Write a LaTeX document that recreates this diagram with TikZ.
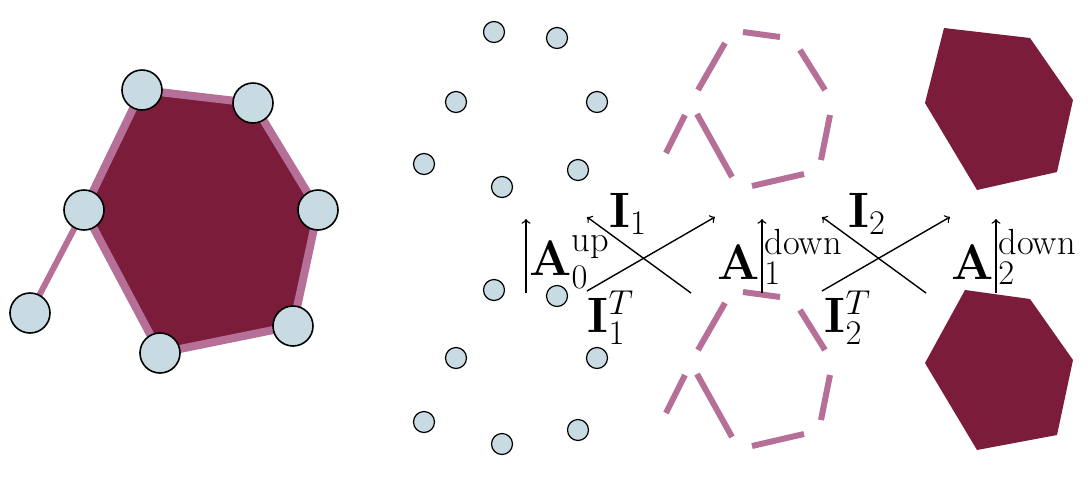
\documentclass[tikz,border=0pt]{standalone}
\usepackage{amsmath}
\begin{document}
\begin{tikzpicture}[x=0.5pt,y=-0.5pt]
\definecolor{maroon}{RGB}{122,28,58}
\definecolor{pinkedge}{RGB}{182,112,152}
\definecolor{nodeblue}{RGB}{200,218,226}
\tikzset{
 big/.style={circle,draw=black,line width=0.8pt,fill=nodeblue,minimum size=20pt,inner sep=0pt},
 small/.style={circle,draw=black,line width=0.6pt,fill=nodeblue,minimum size=10.5pt,inner sep=0pt},
 seg/.style={draw=pinkedge,line width=3pt},
 arr/.style={->,line width=0.7pt},
 lab/.style={font=\fontsize{26}{30}\selectfont,inner sep=0pt}
}
\useasboundingbox (0,0) rectangle (1088,483);
% left graph
\coordinate (h1) at (142,90); \coordinate (h2) at (253,103); \coordinate (h3) at (318,210);
\coordinate (h4) at (293,326); \coordinate (h5) at (160,353); \coordinate (h6) at (84,210);
\filldraw[fill=maroon,draw=pinkedge,line width=4pt,line join=round] (h1)--(h2)--(h3)--(h4)--(h5)--(h6)--cycle;
\draw[pinkedge,line width=3pt] (h6)--(30,313);
\foreach \n/\p in {n1/h1,n2/h2,n3/h3,n4/h4,n5/h5,n6/h6} \node[big] (\n) at (\p) {};
\node[big] (n7) at (30,313) {};
% small dots
\foreach \i/\x/\y in {1/494/32,2/557/38,3/456/102,4/597/102,5/424/164,6/502/187,7/578/170,
 8/494/290,9/557/296,10/456/358,11/597/358,12/424/422,13/502/444,14/578/430}
 \node[small] (d\i) at (\x,\y) {};
% dashed hexagons
\foreach \dy in {0,260}{
 \begin{scope}[yshift=-\dy*0.5pt]
 \draw[seg] (743,32)--(780,37);
 \draw[seg] (725,43)--(698,90);
 \draw[seg] (800,50)--(825,90);
 \draw[seg] (685,115)--(666,153);
 \draw[seg] (697,114)--(732,177);
 \draw[seg] (830,115)--(821,160);
 \draw[seg] (752,186)--(804,174);
 \end{scope}}
% right filled hexagons
\fill[maroon] (944,28)--(1030,38)--(1073,100)--(1057,172)--(977,190)--(925,103)--cycle;
\fill[maroon] (965,290)--(1030,299)--(1073,360)--(1057,435)--(977,450)--(925,363)--cycle;
% arrows
\coordinate (a0s) at (526,293); \coordinate (a0e) at (526,219);
\draw[arr] (a0s)--(a0e);
\node[lab,anchor=west] (A0) at (529,262) {$\mathbf{A}_0^{\text{up}}$};
\coordinate (c1a) at (587,291); \coordinate (c1b) at (715,217);
\coordinate (c1c) at (691,293); \coordinate (c1d) at (587,217);
\draw[arr] (c1a)--(c1b); \draw[arr] (c1c)--(c1d);
\node[lab] (I1) at (628,214) {$\mathbf{I}_1$};
\node[lab] (I1T) at (611,318) {$\mathbf{I}_1^T$};
\draw[arr] (762,293)--(762,219);
\node[lab,anchor=east] (A1) at (760,262) {$\mathbf{A}$};
\node[lab,anchor=west] (A1s) at (764,257) {$\vphantom{\mathbf{A}}_1^{\text{down}}$};
\coordinate (c2a) at (822,291); \coordinate (c2b) at (950,217);
\coordinate (c2c) at (926,293); \coordinate (c2d) at (822,217);
\draw[arr] (c2a)--(c2b); \draw[arr] (c2c)--(c2d);
\node[lab] (I2) at (867,214) {$\mathbf{I}_2$};
\node[lab] (I2T) at (848,318) {$\mathbf{I}_2^T$};
\draw[arr] (996,293)--(996,219);
\node[lab,anchor=east] (A2) at (994,262) {$\mathbf{A}$};
\node[lab,anchor=west] (A2s) at (998,257) {$\vphantom{\mathbf{A}}_2^{\text{down}}$};
\end{tikzpicture}
\end{document}
